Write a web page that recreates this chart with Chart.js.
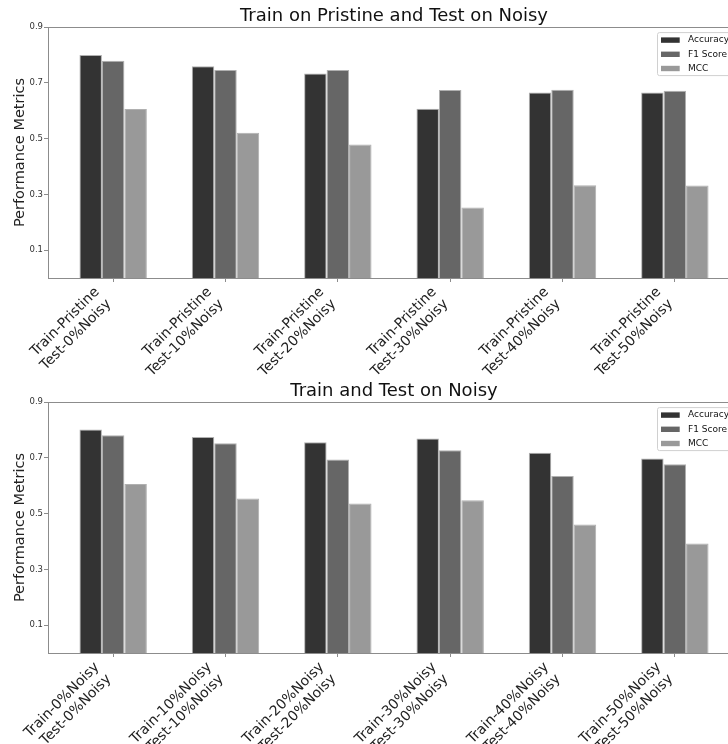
<!DOCTYPE html>
<html>
<head>
<meta charset="utf-8">
<script src="https://cdn.jsdelivr.net/npm/chart.js@4.4.1/dist/chart.umd.min.js"></script>
<style>
  html, body { margin: 0; padding: 0; background: #fff; overflow: hidden; width: 728px; height: 744px; }
  canvas { position: absolute; left: 0; }
  #topChart { top: 0; }
  #bottomChart { top: 375px; }
</style>
</head>
<body>
<canvas id="topChart" width="760" height="375"></canvas>
<canvas id="bottomChart" width="760" height="375"></canvas>
<script>
const metricNames = ['Accuracy', 'F1 Score', 'MCC'];
const metricColors = ['#333333', '#666666', '#999999'];

const pristineLabels = [
  ['Train-Pristine', 'Test-0%Noisy'],
  ['Train-Pristine', 'Test-10%Noisy'],
  ['Train-Pristine', 'Test-20%Noisy'],
  ['Train-Pristine', 'Test-30%Noisy'],
  ['Train-Pristine', 'Test-40%Noisy'],
  ['Train-Pristine', 'Test-50%Noisy'],
];
const noisyLabels = [
  ['Train-0%Noisy', 'Test-0%Noisy'],
  ['Train-10%Noisy', 'Test-10%Noisy'],
  ['Train-20%Noisy', 'Test-20%Noisy'],
  ['Train-30%Noisy', 'Test-30%Noisy'],
  ['Train-40%Noisy', 'Test-40%Noisy'],
  ['Train-50%Noisy', 'Test-50%Noisy'],
];

// Train on pristine, test on noisy
const pristineAccuracy = [0.800, 0.760, 0.734, 0.607, 0.665, 0.665];
const pristineF1 = [0.779, 0.746, 0.746, 0.674, 0.675, 0.672];
const pristineMCC = [0.606, 0.521, 0.479, 0.253, 0.333, 0.332];

// Train and test on noisy
const noisyAccuracy = [0.802, 0.775, 0.756, 0.769, 0.718, 0.698];
const noisyF1 = [0.781, 0.752, 0.694, 0.727, 0.635, 0.677];
const noisyMCC = [0.606, 0.554, 0.536, 0.548, 0.461, 0.393];

const yTicks = [0.1, 0.3, 0.5, 0.7, 0.9];

const FONT = '"DejaVu Sans", sans-serif';
const SPINE = '#8c8c8c';

// axes box (matplotlib draws all four spines)
const framePlugin = {
  id: 'frame',
  afterDatasetsDraw(chart) {
    const { ctx, chartArea: a } = chart;
    ctx.save();
    ctx.strokeStyle = SPINE;
    ctx.lineWidth = 1;
    ctx.strokeRect(Math.round(a.left) + 0.5, Math.round(a.top) + 0.5,
      Math.round(a.right - a.left), Math.round(a.bottom - a.top));
    ctx.restore();
  }
};

// legend box in the upper right corner of the axes
const boxLegend = {
  id: 'boxLegend',
  afterDraw(chart) {
    const { ctx, chartArea: a } = chart;
    const left = a.right - 82.5;
    const top = a.top + 5.5;
    ctx.save();
    ctx.fillStyle = 'rgba(255,255,255,0.8)';
    ctx.strokeStyle = '#d0d0d0';
    ctx.lineWidth = 1;
    ctx.beginPath();
    ctx.roundRect(left, top, 80, 43, 2);
    ctx.fill();
    ctx.stroke();
    ctx.font = '9px ' + FONT;
    ctx.textBaseline = 'middle';
    chart.data.datasets.forEach((ds, i) => {
      const cy = a.top + 13 + i * 14.2;
      ctx.fillStyle = ds.backgroundColor;
      ctx.fillRect(left + 3.5, cy - 2.7, 18.7, 5.4);
      ctx.fillStyle = '#111';
      ctx.fillText(ds.label, left + 30.5, cy);
    });
    ctx.restore();
  }
};

function makeChart(id, title, labels, acc, f1, mcc) {
  const series = [acc, f1, mcc];
  return new Chart(document.getElementById(id), {
    type: 'bar',
    data: {
      datasets: series.map((vals, i) => ({
        label: metricNames[i],
        data: vals.map((v, k) => ({ x: k, y: v })),
        backgroundColor: metricColors[i],
        borderColor: '#b0b0b0',
        borderWidth: 1,
        categoryPercentage: 0.6,
        barPercentage: 1.0,
      })),
    },
    options: {
      responsive: false,
      animation: false,
      layout: { padding: { left: 0, right: 20, top: 0, bottom: 0 } },
      plugins: {
        legend: { display: false },
        tooltip: { enabled: false },
        title: {
          display: true,
          text: title,
          fullSize: false,
          color: '#111',
          font: { family: FONT, size: 18, weight: 'normal' },
          padding: { top: 5.5, bottom: 0 },
        },
      },
      scales: {
        x: {
          type: 'linear',
          min: -0.58,
          max: 5.58,
          offset: false,
          afterBuildTicks: (s) => { s.ticks = labels.map((_, k) => ({ value: k })); },
          afterFit: (s) => { s.height = 97; },
          ticks: {
            autoSkip: false,
            minRotation: 45,
            maxRotation: 45,
            padding: 2,
            labelOffset: -16,
            color: '#222',
            font: { family: FONT, size: 14 },
            callback: (v, i) => labels[i],
          },
          grid: { offset: false, drawOnChartArea: false, tickLength: 4, color: SPINE },
          border: { color: SPINE },
        },
        y: {
          min: 0,
          max: 0.9,
          afterBuildTicks: (s) => { s.ticks = yTicks.map((v) => ({ value: v })); },
          afterFit: (s) => { s.width = 48; },
          ticks: {
            padding: 1,
            color: '#333',
            font: { family: FONT, size: 8.5 },
            callback: (v) => v.toFixed(1),
          },
          grid: { drawOnChartArea: false, tickLength: 4, color: SPINE },
          border: { color: SPINE },
          title: {
            display: true,
            text: 'Performance Metrics',
            color: '#222',
            font: { family: FONT, size: 14.5 },
            padding: { top: 12, bottom: 0 },
          },
        },
      },
    },
    plugins: [framePlugin, boxLegend],
  });
}

makeChart('topChart', 'Train on Pristine and Test on Noisy', pristineLabels,
  pristineAccuracy, pristineF1, pristineMCC);
makeChart('bottomChart', 'Train and Test on Noisy', noisyLabels,
  noisyAccuracy, noisyF1, noisyMCC);
</script>
</body>
</html>
